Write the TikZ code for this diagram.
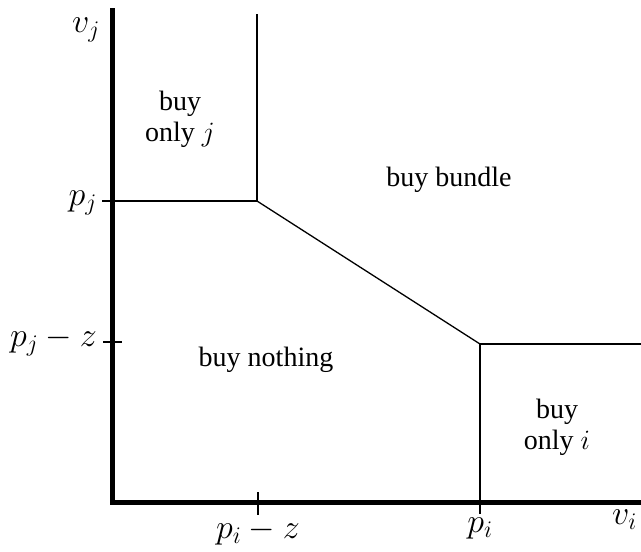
\documentclass[tikz,border=0pt]{standalone}
\usepackage{fix-cm}
\usepackage{fontspec}
\setmainfont{Liberation Serif}
\begin{document}
\begin{tikzpicture}[x=1pt,y=-1pt,
  axis/.style={line width=5pt},
  bound/.style={line width=1.3pt},
  region/.style={font=\fontsize{28}{31}\selectfont, align=center, inner sep=0pt},
  lab/.style={font=\fontsize{34}{36}\selectfont, inner sep=0pt}]
\useasboundingbox (0,0) rectangle (641,552);
% key points
\coordinate (O) at (112.5,502);
\coordinate (Ytop) at (112.5,8);
\coordinate (Xend) at (641,502);
\coordinate (A) at (257,201);
\coordinate (Atop) at (257,14);
\coordinate (B) at (480,344);
\coordinate (Bright) at (641,344);
\coordinate (Pj) at (102,201);
\coordinate (Pjz) at (103,342);
\coordinate (Pjzr) at (122,342);
\coordinate (Piz) at (258,492);
\coordinate (Pizb) at (258,515);
\coordinate (Pib) at (480,514);
% axes
\draw[axis] (Ytop) -- (112.5,504.5) ;
\draw[axis] (110,502) -- (Xend);
% boundaries
\draw[bound] (Atop) -- (A);
\draw[bound] (Pj) -- (A);
\draw[bound] (A) -- (B);
\draw[bound] (B) -- (Bright);
\draw[bound] (B) -- (Pib);
% ticks
\draw[bound] (Pjz) -- (Pjzr);
\draw[bound] (Piz) -- (Pizb);
% axis labels
\node[lab] (vj) at (86,30) {$v_j$};
\node[lab, anchor=east] (pj) at (97,203) {$p_j$};
\node[lab, anchor=east] (pjz) at (97,341) {$p_j - z$};
\node[lab, anchor=north] (piz) at (258,518) {$p_i - z$};
\node[lab, anchor=north] (pi) at (480,518) {$p_i$};
\node[lab, anchor=west] (vi) at (612,520) {$v_i$};
% region labels
\node[region] (onlyj) at (180,119) {buy\\only $j$};
\node[region] (bundle) at (449,180) {buy bundle};
\node[region] (nothing) at (266,360) {buy nothing};
\node[region] (onlyi) at (557,427) {buy\\only $i$};
\end{tikzpicture}
\end{document}
